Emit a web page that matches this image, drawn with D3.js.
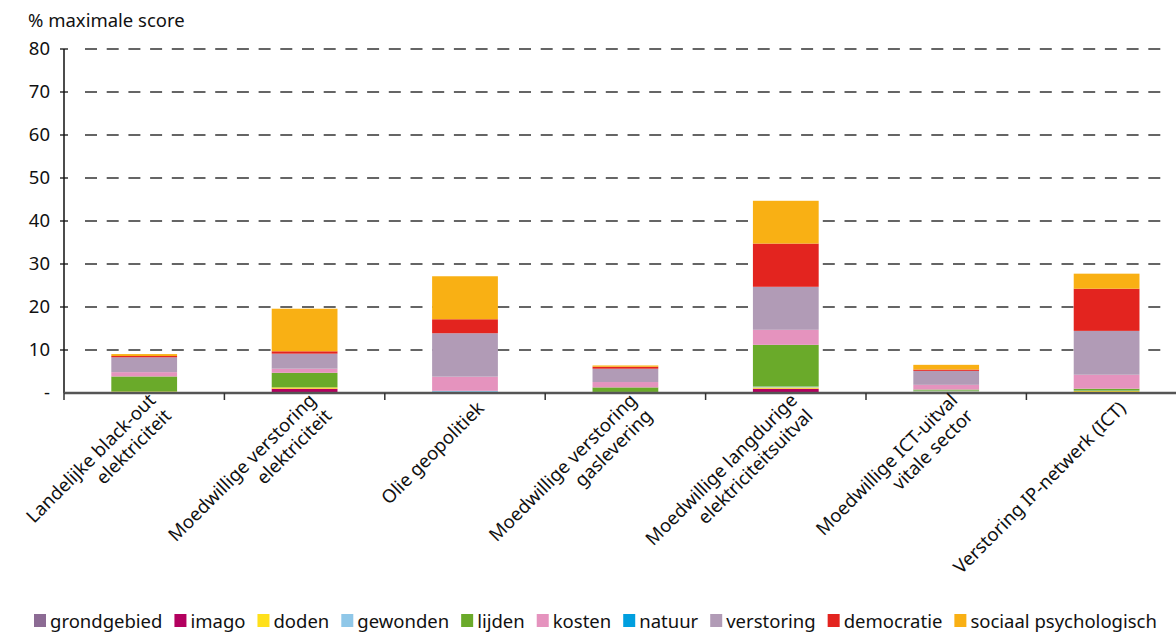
<!DOCTYPE html>
<html>
<head>
<meta charset="utf-8">
<script src="https://cdn.jsdelivr.net/npm/d3@7"></script>
<style>
  html, body { margin: 0; padding: 0; background: #fff; }
  svg { display: block; font-family: "Noto Sans", "Open Sans", sans-serif; }
</style>
</head>
<body>
<svg id="chart" width="1176" height="634"></svg>
<script>
// ---- data ----
const categories = [
  "Landelijke black-out|elektriciteit",
  "Moedwillige verstoring|elektriciteit",
  "Olie geopolitiek",
  "Moedwillige verstoring|gaslevering",
  "Moedwillige langdurige|elektriciteitsuitval",
  "Moedwillige ICT-uitval|vitale sector",
  "Verstoring IP-netwerk (ICT)"
];
const seriesNames = ["grondgebied", "imago", "doden", "gewonden", "lijden", "kosten", "natuur", "verstoring", "democratie", "sociaal psychologisch"];
const grondgebied = [0, 0, 0, 0, 0, 0, 0];
const imago       = [0, 1.0, 0, 0, 1.0, 0, 0];
const doden       = [0.35, 0.3, 0.2, 0.25, 0.3, 0.35, 0.45];
const gewonden    = [0, 0, 0.3, 0, 0.2, 0.2, 0.1];
const lijden      = [3.5, 3.4, 0, 1.05, 9.7, 0.25, 0.45];
const kosten      = [1.0, 0.95, 3.3, 1.25, 3.5, 1.1, 3.25];
const natuur      = [0, 0, 0, 0, 0, 0, 0];
const verstoring  = [3.45, 3.5, 10.1, 3.1, 10.0, 3.25, 10.2];
const democratie  = [0.3, 0.55, 3.25, 0.45, 10.05, 0.3, 9.8];
const sociaal     = [0.45, 9.9, 10.0, 0.3, 9.95, 1.1, 3.5];
const seriesValues = [grondgebied, imago, doden, gewonden, lijden, kosten, natuur, verstoring, democratie, sociaal];
const seriesColors = ["#8c6b94", "#b3005f", "#ffe01b", "#8fc7e8", "#6aaa2a", "#e593be", "#009fdf", "#b19bb6", "#e3241f", "#f9b014"];
const yTicks = [0, 10, 20, 30, 40, 50, 60, 70, 80];
const yTitle = "% maximale score";

// ---- layout ----
const svg = d3.select("#chart");
const mLeft = 64, mBottom = 393, mTop = 49;
const step = 160.4;
const FS = 18.5;
const x = d3.scaleBand().domain(d3.range(categories.length)).range([mLeft, mLeft + step * categories.length]).paddingInner(0.59).paddingOuter(0.295);
const xb = d3.scaleBand().domain(d3.range(categories.length)).range([mLeft, mLeft + step * categories.length]);
const y = d3.scaleLinear().domain([0, 80]).range([mBottom, mTop]);

const table = categories.map((c, i) => {
  const o = { i };
  seriesNames.forEach((s, k) => o[s] = seriesValues[k][i]);
  return o;
});
const stacked = d3.stack().keys(seriesNames)(table);

// gridlines
svg.append("g").selectAll("line").data(yTicks.filter(d => d > 0)).join("line")
  .attr("x1", 85).attr("x2", 1162)
  .attr("y1", d => y(d)).attr("y2", d => y(d))
  .attr("stroke", "#333").attr("stroke-width", 1.6)
  .attr("stroke-dasharray", "12,9.7");

// bars
svg.append("g").selectAll("g").data(stacked).join("g")
  .attr("fill", (d, k) => seriesColors[k])
  .selectAll("rect").data(d => d).join("rect")
  .attr("x", d => x(d.data.i))
  .attr("width", x.bandwidth())
  .attr("y", d => y(d[1]))
  .attr("height", d => Math.max(0, y(d[0]) - y(d[1])));

// y axis
const yAxis = d3.axisLeft(y).tickValues(yTicks).tickSize(0).tickFormat(d => d === 0 ? "-" : d);
const gy = svg.append("g").attr("transform", `translate(${mLeft},0)`).call(yAxis);
gy.select(".domain").remove();
gy.selectAll("text").attr("x", -14).attr("font-size", FS).attr("fill", "#111").attr("font-family", "Noto Sans, sans-serif");
svg.append("line").attr("x1", mLeft).attr("x2", mLeft).attr("y1", mTop).attr("y2", mBottom).attr("stroke", "#111").attr("stroke-width", 1.5);
svg.append("g").selectAll("line").data(yTicks.filter(d => d > 0)).join("line")
  .attr("x1", mLeft - 4).attr("x2", mLeft + 4).attr("y1", d => y(d)).attr("y2", d => y(d))
  .attr("stroke", "#111").attr("stroke-width", 1.3);

// x axis
svg.append("line").attr("x1", mLeft).attr("x2", 1176).attr("y1", mBottom).attr("y2", mBottom)
  .attr("stroke", "#555").attr("stroke-width", 2.5);
svg.append("g").selectAll("line").data(d3.range(categories.length)).join("line")
  .attr("x1", d => xb(d)).attr("x2", d => xb(d)).attr("y1", mBottom).attr("y2", mBottom + 7)
  .attr("stroke", "#333").attr("stroke-width", 1.5);

// x labels
const lg = svg.append("g").selectAll("g").data(categories).join("g")
  .attr("transform", (d, i) => `translate(${xb(i) + xb.bandwidth() / 2 + 16},${mBottom + 12}) rotate(-45)`);
lg.each(function (d) {
  const lines = d.split("|");
  const t = d3.select(this).append("text").attr("text-anchor", "end").attr("font-size", FS).attr("fill", "#111");
  const lh = 22;
  lines.forEach((l, j) => {
    t.append("tspan").attr("x", 0).attr("y", (j - (lines.length - 1) / 2) * lh + 6).text(l);
  });
});

// title
svg.append("text").attr("x", 28).attr("y", 27).attr("font-size", FS).attr("fill", "#111").text(yTitle);

// legend
const leg = svg.append("g");
let lx = 34;
seriesNames.forEach((s, k) => {
  leg.append("rect").attr("x", lx).attr("y", 614).attr("width", 12).attr("height", 13).attr("fill", seriesColors[k]);
  const t = leg.append("text").attr("x", lx + 16).attr("y", 628).attr("font-size", FS).attr("fill", "#111").text(s);
  lx += 16 + t.node().getComputedTextLength() + 12;
});
</script>
</body>
</html>
